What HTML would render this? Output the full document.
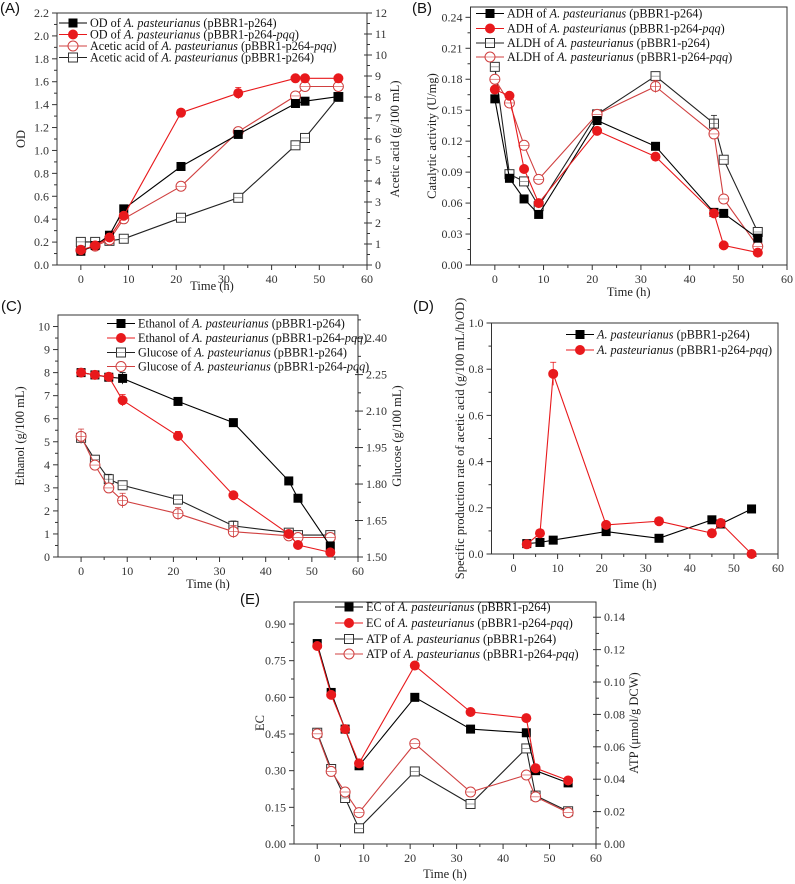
<!DOCTYPE html>
<html><head><meta charset="utf-8">
<style>
body{margin:0;background:#fff;}
svg{display:block;font-family:"Liberation Serif",serif;}
.t{font-size:12px;fill:#333;}
.at{font-size:12.5px;fill:#222;}
.lg{font-size:12.2px;fill:#111;}
.pl{font-family:"Liberation Sans",sans-serif;font-size:15px;fill:#111;}
</style></head>
<body>
<svg id="fig" width="795" height="884" viewBox="0 0 795 884" xmlns="http://www.w3.org/2000/svg"></svg>
<script>
// ---- data ----
const timesA = [0,3,6,9,21,33,45,47,54];
const odP264 = [0.12,0.17,0.26,0.49,0.86,1.14,1.41,1.43,1.47];
const odPqq = [0.13,0.17,0.24,0.43,1.33,1.50,1.63,1.63,1.63];
const acidPqq = [0.7,0.9,1.2,2.2,3.75,6.35,8.05,8.5,8.5];
const acidP264 = [1.1,1.1,1.15,1.25,2.25,3.2,5.7,6.05,8.0];

const adhP264 = [0.161,0.084,0.064,0.049,0.140,0.115,0.051,0.050,0.026];
const adhPqq = [0.170,0.164,0.093,0.060,0.130,0.105,0.050,0.019,0.012];
const aldhP264 = [0.192,0.088,0.081,0.057,0.146,0.183,0.137,0.102,0.032];
const aldhPqq = [0.180,0.157,0.116,0.083,0.146,0.173,0.127,0.064,0.018];

const ethP264 = [8.0,7.9,7.8,7.75,6.75,5.83,3.3,2.55,0.48];
const ethPqq = [8.0,7.9,7.82,6.8,5.25,2.68,1.0,0.52,0.2];
const gluP264 = [1.99,1.90,1.82,1.795,1.736,1.628,1.60,1.59,1.59];
const gluPqq = [1.996,1.878,1.784,1.732,1.678,1.604,1.587,1.58,1.58];

const timesD = [3,6,9,21,33,45,47,54];
const rateP264 = [0.045,0.05,0.06,0.097,0.068,0.148,0.13,0.195];
const ratePqq = [0.042,0.09,0.78,0.126,0.142,0.09,0.134,0.0];

const ecP264 = [0.82,0.62,0.47,0.32,0.60,0.47,0.455,0.30,0.25];
const ecPqq = [0.81,0.61,0.47,0.33,0.73,0.54,0.515,0.31,0.26];
const atpP264 = [0.0687,0.0463,0.0284,0.0097,0.0448,0.0247,0.059,0.0299,0.0202];
const atpPqq = [0.068,0.0448,0.0321,0.0194,0.062,0.0321,0.0426,0.0291,0.0194];

const xTicks = [0,10,20,30,40,50,60];
const ticksA = [0,0.2,0.4,0.6,0.8,1.0,1.2,1.4,1.6,1.8,2.0,2.2];
const ticksAR = [0,1,2,3,4,5,6,7,8,9,10,11,12];
const ticksB = [0,0.03,0.06,0.09,0.12,0.15,0.18,0.21,0.24];
const ticksC = [0,1,2,3,4,5,6,7,8,9,10];
const ticksCR = [1.5,1.65,1.8,1.95,2.1,2.25,2.4];
const ticksD = [0,0.2,0.4,0.6,0.8,1.0];
const ticksE = [0,0.15,0.30,0.45,0.60,0.75,0.90];
const ticksER = [0,0.02,0.04,0.06,0.08,0.10,0.12,0.14];

const NS="http://www.w3.org/2000/svg";
const svg=document.getElementById('fig');
function el(tag,attrs,parent){const e=document.createElementNS(NS,tag);for(const k in attrs)e.setAttribute(k,attrs[k]);(parent||svg).appendChild(e);return e;}
function txt(x,y,s,cls,anchor,rot,parent){const e=el('text',{x:x,y:y,class:cls,'text-anchor':anchor||'middle'},parent);if(rot)e.setAttribute('transform','rotate('+rot+' '+x+' '+y+')');e.innerHTML=s;return e;}

function marker(g,x,y,type){
  const red='#e8191c';
  let m;
  if(type==='fsq'){m=el('rect',{x:x-4.5,y:y-4.5,width:9,height:9,fill:'#000'},g);}
  else if(type==='fci'){m=el('circle',{cx:x,cy:y,r:5,fill:red},g);}
  else if(type==='osq'){m=el('rect',{x:x-4.5,y:y-4.5,width:9,height:9,fill:'#fff',stroke:'#333','stroke-width':1},g);
    el('line',{x1:x-4.5,y1:y,x2:x+4.5,y2:y,stroke:'#666','stroke-width':0.6},g);}
  else {m=el('circle',{cx:x,cy:y,r:5,fill:'#fff',stroke:'#d04040','stroke-width':1},g);
    el('line',{x1:x-5,y1:y,x2:x+5,y2:y,stroke:'#d04040','stroke-width':0.6},g);}
  return m;
}
const col={fsq:'#000',fci:'#e8191c',osq:'#222',oci:'#d04040'};

function panel(cfg){
  const g=el('g',{});
  
  
  const {L,R,T,B}=cfg;
  const sx=v=>L+(v-cfg.xmin)/(cfg.xmax-cfg.xmin)*(R-L);
  const sy=v=>B-(v-cfg.ymin)/(cfg.ymax-cfg.ymin)*(B-T);
  const sy2=cfg.y2?(v=>B-(v-cfg.y2min)/(cfg.y2max-cfg.y2min)*(B-T)):null;
  const fr=el('rect',{x:L,y:T,width:R-L,height:B-T,fill:'none',stroke:'#333','stroke-width':1},g);
  
  xTicks.forEach((v,i)=>{const x=sx(v);el('line',{x1:x,y1:B,x2:x,y2:B+5,stroke:'#333'},g);
    const mx=sx(v-5); if(mx>L) el('line',{x1:mx,y1:B,x2:mx,y2:B+3,stroke:'#333'},g);
    const t=txt(x,B+18,String(v),'t','middle',0,g);});
  cfg.yticks.forEach((v,i)=>{const y=sy(v);el('line',{x1:L-5,y1:y,x2:L,y2:y,stroke:'#333'},g);
    if(i<cfg.yticks.length-1){const my=sy(v+(cfg.yticks[1]-cfg.yticks[0])/2);el('line',{x1:L-3,y1:my,x2:L,y2:my,stroke:'#333'},g);}
    const t=txt(L-8,y+4,cfg.yfmt(v),'t','end',0,g);});
  if(cfg.y2){cfg.y2ticks.forEach((v,i)=>{const y=sy2(v);el('line',{x1:R-3,y1:y,x2:R+5,y2:y,stroke:'#333'},g);
    const st=cfg.y2ticks[1]-cfg.y2ticks[0];const my=sy2(v+st/2);if(my>T)el('line',{x1:R,y1:my,x2:R+3,y2:my,stroke:'#333'},g);
    const t=txt(R+8,y+4,cfg.y2fmt(v),'t','start',0,g);});}
  let t=txt((L+R)/2,cfg.xtY,'Time (h)','at','middle',0,g);
  t=txt(cfg.ytX,(T+B)/2,cfg.ytitle,'at','middle',-90,g);
  if(cfg.y2){t=txt(cfg.y2tX,(T+B)/2,cfg.y2title,'at','middle',-90,g);}
  t=txt(cfg.plX,cfg.plY,cfg.label,'pl','start',0,g);
  cfg.series.forEach(s=>{
    const ys=s.axis2?sy2:sy;
    const sg=el('g',{},g);
    
    
    const pts=s.x.map((xv,i)=>sx(xv).toFixed(1)+','+ys(s.y[i]).toFixed(1)).join(' ');
    el('polyline',{points:pts,fill:'none',stroke:col[s.type],'stroke-width':1.1},sg);
    s.x.forEach((xv,i)=>{const m=marker(sg,sx(xv),ys(s.y[i]),s.type);
      });
    if(s.err){s.err.forEach(e=>{const x=sx(s.x[e[0]]),y1=ys(s.y[e[0]]+e[1]),y0=ys(s.y[e[0]]-e[1]);
      el('line',{x1:x,y1:y1,x2:x,y2:y0,stroke:col[s.type],'stroke-width':0.8},sg);
      el('line',{x1:x-3,y1:y1,x2:x+3,y2:y1,stroke:col[s.type],'stroke-width':0.8},sg);});}
  });
  const lg=el('g',{},g);
  
  
  cfg.legend.forEach((it,i)=>{const y=cfg.lgY[i];
    const eg=el('g',{},lg);
    
    
    el('line',{x1:cfg.lgX,y1:y,x2:cfg.lgX+28,y2:y,stroke:col[it[0]],'stroke-width':1.1},eg);
    marker(eg,cfg.lgX+14,y,it[0]);
    txt(cfg.lgX+31,y+4,it[1],'lg','start',0,eg);});
}
const AP='<tspan font-style="italic">A. pasteurianus</tspan>';
const PQ='(pBBR1-p264-<tspan font-style="italic">pqq</tspan>)';
const P2='(pBBR1-p264)';
const f1=v=>v.toFixed(1), f2=v=>v.toFixed(2);

panel({name:'panel-a',label:'(A)',plX:0,plY:13,L:57,R:367,T:13,B:265,xmin:-5,xmax:60,ymin:0,ymax:2.2,
  yticks:ticksA,yfmt:f1,y2:true,y2min:0,y2max:12,y2ticks:ticksAR,y2fmt:v=>String(v),
  ytitle:'OD',ytX:25,y2title:'Acetic acid (g/100 mL)',y2tX:399,xtY:290,
  series:[{name:'series-acetic-p264',type:'osq',x:timesA,y:acidP264,axis2:true},
    {name:'series-acetic-pqq',type:'oci',x:timesA,y:acidPqq,axis2:true},
    {name:'series-od-p264',type:'fsq',x:timesA,y:odP264},
    {name:'series-od-pqq',type:'fci',x:timesA,y:odPqq,err:[[5,0.05]]}],
  lgX:59,lgY:[23,34.5,46,57.5],
  legend:[['fsq','OD of '+AP+' '+P2],['fci','OD of '+AP+' '+PQ],['oci','Acetic acid of '+AP+' '+PQ],['osq','Acetic acid of '+AP+' '+P2]]});

panel({name:'panel-b',label:'(B)',plX:412,plY:13,L:470.5,R:787,T:7,B:265,xmin:-5,xmax:60,ymin:0,ymax:0.25,
  yticks:ticksB,yfmt:f2,ytitle:'Catalytic activity (U/mg)',ytX:436,xtY:296,
  series:[{name:'series-aldh-p264',type:'osq',x:timesA,y:aldhP264,err:[[6,0.008]]},
    {name:'series-aldh-pqq',type:'oci',x:timesA,y:aldhPqq,err:[[5,0.006]]},
    {name:'series-adh-p264',type:'fsq',x:timesA,y:adhP264},
    {name:'series-adh-pqq',type:'fci',x:timesA,y:adhPqq}],
  lgX:476,lgY:[13.5,28.5,43,57],
  legend:[['fsq','ADH of '+AP+' '+P2],['fci','ADH of '+AP+' '+PQ],['osq','ALDH of '+AP+' '+P2],['oci','ALDH of '+AP+' '+PQ]]});

panel({name:'panel-c',label:'(C)',plX:1,plY:311,L:58,R:358,T:315,B:557,xmin:-5,xmax:60,ymin:0,ymax:10.5,
  yticks:ticksC,yfmt:v=>String(v),y2:true,y2min:1.5,y2max:2.495,y2ticks:ticksCR,y2fmt:f2,
  ytitle:'Ethanol (g/100 mL)',ytX:24,y2title:'Glucose (g/100 mL)',y2tX:401,xtY:588,
  series:[{name:'series-glucose-p264',type:'osq',x:timesA,y:gluP264,axis2:true,err:[[2,0.02],[5,0.02]]},
    {name:'series-glucose-pqq',type:'oci',x:timesA,y:gluPqq,axis2:true,err:[[0,0.03],[3,0.03],[4,0.025],[5,0.025]]},
    {name:'series-ethanol-p264',type:'fsq',x:timesA,y:ethP264,err:[[3,0.25]]},
    {name:'series-ethanol-pqq',type:'fci',x:timesA,y:ethPqq,err:[[3,0.25],[4,0.2]]}],
  lgX:107,lgY:[323.5,338,352.5,366.5],
  legend:[['fsq','Ethanol of '+AP+' '+P2],['fci','Ethanol of '+AP+' '+PQ],['osq','Glucose of '+AP+' '+P2],['oci','Glucose of '+AP+' '+PQ]]});

panel({name:'panel-d',label:'(D)',plX:413,plY:311,L:491.5,R:778,T:323,B:554,xmin:-5,xmax:60,ymin:0,ymax:1.0,
  yticks:ticksD,yfmt:f1,ytitle:'Specific production rate of acetic acid (g/100 mL/h/OD)',ytX:464,xtY:588,
  series:[{name:'series-rate-p264',type:'fsq',x:timesD,y:rateP264},
    {name:'series-rate-pqq',type:'fci',x:timesD,y:ratePqq,err:[[2,0.05]]}],
  lgX:566,lgY:[334.5,350],
  legend:[['fsq',AP+' '+P2],['fci',AP+' '+PQ]]});

panel({name:'panel-e',label:'(E)',plX:240,plY:604,L:294,R:596,T:602,B:844,xmin:-5,xmax:60,ymin:0,ymax:0.99,
  yticks:ticksE,yfmt:f2,y2:true,y2min:0,y2max:0.1494,y2ticks:ticksER,y2fmt:f2,
  ytitle:'EC',ytX:264,y2title:'ATP (μmol/g DCW)',y2tX:638,xtY:878,
  series:[{name:'series-atp-p264',type:'osq',x:timesA,y:atpP264,axis2:true},
    {name:'series-atp-pqq',type:'oci',x:timesA,y:atpPqq,axis2:true},
    {name:'series-ec-p264',type:'fsq',x:timesA,y:ecP264},
    {name:'series-ec-pqq',type:'fci',x:timesA,y:ecPqq}],
  lgX:335,lgY:[607,623,639,654],
  legend:[['fsq','EC of '+AP+' '+P2],['fci','EC of '+AP+' '+PQ],['osq','ATP of '+AP+' '+P2],['oci','ATP of '+AP+' '+PQ]]});
</script>
</body></html>
